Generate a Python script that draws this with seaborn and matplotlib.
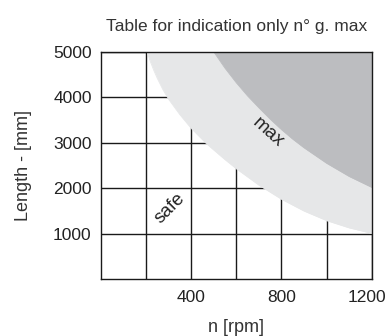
import matplotlib
matplotlib.use("Agg")
import matplotlib.pyplot as plt
import matplotlib.transforms as mtransforms
import seaborn as sns
import pandas as pd

# ---- data ----
safe_rpm = [205, 220, 235, 250, 275, 300, 350, 400, 470, 550, 600, 700, 800, 900, 1000, 1100, 1200]
safe_len = [5000, 4780, 4590, 4420, 4170, 3960, 3620, 3320, 2970, 2630, 2430, 2070, 1760, 1500, 1290, 1130, 1010]

max_rpm = [500, 550, 600, 650, 700, 750, 800, 850, 900, 1000, 1100, 1200]
max_len = [5000, 4640, 4320, 4030, 3770, 3520, 3290, 3080, 2890, 2550, 2260, 2020]

x_major = [400, 800, 1200]
x_minor = [200, 600, 1000]
y_ticks = [1000, 2000, 3000, 4000, 5000]

title = "Table for indication only n° g. max"
xlabel = "n [rpm]"
ylabel = "Length - [mm]"

sns.set_style("white")
plt.rcParams["font.family"] = ["Liberation Sans", "DejaVu Sans"]

W, H = 387, 336
fig = plt.figure(figsize=(W / 100, H / 100), dpi=100)
ax = fig.add_axes([100.7 / W, 1 - 279.3 / H, 271 / W, 227.6 / H])

light = "#e6e7e8"
dark = "#bcbdc0"

df_safe = pd.DataFrame({"rpm": safe_rpm, "len": safe_len})
df_max = pd.DataFrame({"rpm": max_rpm, "len": max_len})

ax.fill_between(df_safe["rpm"], df_safe["len"], 5000, color=light, lw=0, zorder=1)
sns.lineplot(data=df_safe, x="rpm", y="len", color=light, lw=0.6, ax=ax, zorder=1.1)
ax.fill_between(df_max["rpm"], df_max["len"], 5000, color=dark, lw=0, zorder=1.2)
sns.lineplot(data=df_max, x="rpm", y="len", color=dark, lw=0.6, ax=ax, zorder=1.3)

ax.set_xlim(0, 1200)
ax.set_ylim(0, 5000)
ax.set_xticks(x_major)
ax.set_xticks(x_minor, minor=True)
ax.set_yticks(y_ticks)
ax.set_axisbelow(True)
ax.grid(True, which="both", color="#1a1a1a", lw=1.0)
ax.tick_params(which="both", length=0)
ax.tick_params(axis="x", pad=8, labelsize=12.5, labelcolor="#222222")
ax.tick_params(axis="y", pad=6.5, labelsize=12.5, labelcolor="#222222")
for s in ax.spines.values():
    s.set_color("#1a1a1a")
    s.set_linewidth(1.0)
    s.set_visible(True)

# shift last x label left a bit (as in reference)
lbls = ax.get_xticklabels()
off = mtransforms.ScaledTranslation(-5 / 100, 0, fig.dpi_scale_trans)
lbls[-1].set_transform(lbls[-1].get_transform() + off)

narrow = ["Liberation Sans Narrow", "Liberation Sans", "DejaVu Sans"]
ax.set_title(title, fontsize=12.5, color="#333333", pad=15, family=narrow)
ax.set_xlabel(xlabel, fontsize=13, color="#333333", labelpad=10, family=narrow)
ax.set_ylabel(ylabel, fontsize=13, color="#333333", labelpad=15, family=narrow)

ax.text(740, 3230, "max", rotation=-42, ha="center", va="center",
        fontsize=13.5, color="#222222", zorder=3)
ax.text(304, 1560, "safe", rotation=45, ha="center", va="center",
        fontsize=13.5, color="#222222", zorder=3)

fig.savefig("out.png", dpi=100)
